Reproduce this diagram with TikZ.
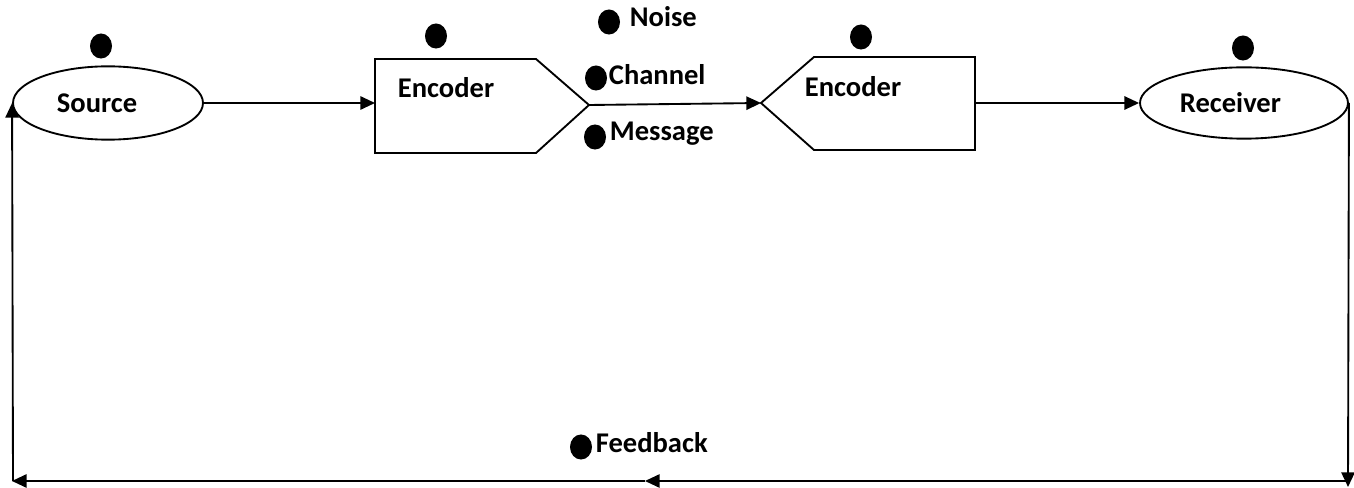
\documentclass[tikz,border=0pt]{standalone}
\usepackage{fontspec}
\setmainfont{Carlito}
\usetikzlibrary{arrows.meta,shapes.geometric}

\tikzset{
  blob/.style={ellipse,fill=black,inner sep=0pt,minimum width=16.5pt,minimum height=18.8pt},
  tag/.style={anchor=base west,inner sep=0pt,font=\bfseries\fontsize{21.4}{25}\selectfont},
  oval/.style={draw,ellipse,line width=1.4pt,inner sep=0pt},
  flow/.style={line width=1.4pt,-{Triangle[length=11pt,width=10pt]}}
}

\begin{document}
\begin{tikzpicture}[x=0.75pt,y=-0.75pt,line width=1.4pt]
  \useasboundingbox (0,0) rectangle (1354,488);
  % end stations
  \node[oval,minimum width=142.5pt,minimum height=55pt] (source) at (108,103) {};
  \node[oval,minimum width=156pt,minimum height=53.5pt] (receiver) at (1244,103) {};
  \node[tag] (sourcetext) at (56,113) {Source};
  \node[tag] (receivertext) at (1179,113) {Receiver};
  % the two coder boxes
  \draw (375,59) -- (536,59) -- (589,105) coordinate (enc1out) -- (536,153) -- (375,153) -- cycle;
  \coordinate (enc1in) at (375,103);
  \draw (761,103) coordinate (enc2in) -- (814,57) -- (975,57) -- (975,150) -- (814,150) -- cycle;
  \coordinate (enc2out) at (975,103);
  \node[tag] (enc1text) at (397,98) {Encoder};
  \node[tag] (enc2text) at (804,97) {Encoder};
  % bullets and their words
  \node[blob] (sourcedot) at (101,46) {};
  \node[blob] (enc1dot) at (436,36) {};
  \node[blob] (noisedot) at (609,22) {};
  \node[blob] (channeldot) at (596,78) {};
  \node[blob] (messagedot) at (595,137) {};
  \node[blob] (enc2dot) at (861,37) {};
  \node[blob] (receiverdot) at (1243,48) {};
  \node[blob] (feedbackdot) at (581,447) {};
  \node[tag] (noisetext) at (629,27) {Noise};
  \node[tag] (channeltext) at (608,85) {Channel};
  \node[tag] (messagetext) at (609,141) {Message};
  \node[tag] (feedbacktext) at (595,453) {Feedback};
  % forward path
  \draw[flow] (source.east) -- (enc1in);
  \draw[flow] (enc1out) -- (enc2in);
  \draw[flow] (enc2out) -- (receiver.west);
  % feedback loop
  \coordinate (fbdown) at (1348,487);
  \coordinate (fbcorner) at (1348,481);
  \coordinate (fbmid) at (645,481);
  \coordinate (fbend) at (12,481);
  \coordinate (fbup) at (13,481);
  \draw[flow] (receiver.east) -- (fbdown);
  \draw[flow] (fbcorner) -- (fbmid);
  \draw[flow] (fbmid) -- (fbend);
  \draw[flow] (fbup) -- (source.west);
\end{tikzpicture}
\end{document}
